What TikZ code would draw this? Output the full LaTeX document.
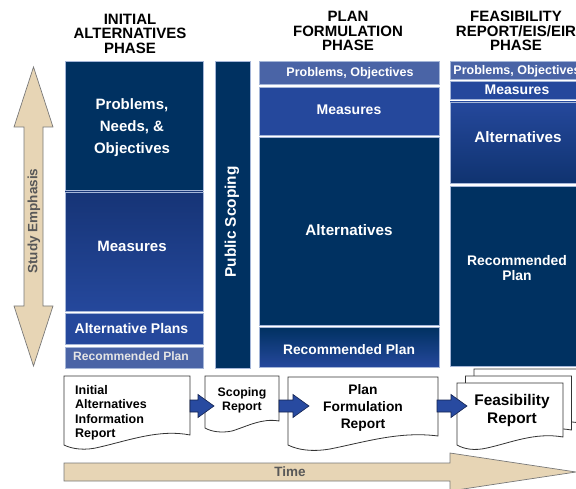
\documentclass[tikz,border=0pt]{standalone}
\usepackage{fontspec}
\setmainfont{Liberation Sans}
\usetikzlibrary{calc}
\definecolor{navy}{RGB}{0,49,97}
\definecolor{midblue}{RGB}{37,72,156}
\definecolor{deepblue}{RGB}{22,52,118}
\definecolor{paleblue}{RGB}{74,100,166}
\definecolor{edgeblue}{RGB}{165,182,216}
\definecolor{tanfill}{RGB}{231,213,181}
\definecolor{tanedge}{RGB}{120,120,120}
\definecolor{arrowblue}{RGB}{40,74,160}
\definecolor{arrowedge}{RGB}{20,35,80}
\definecolor{labelgrey}{RGB}{88,88,88}
\newcommand\fsz[2]{\fontsize{#1}{#2}\selectfont}
\begin{document}
\begin{tikzpicture}[x=1pt,y=-1pt,
  panel/.style={draw=edgeblue, line width=0.7pt, inner sep=0pt},
  ptext/.style={text=white, inner sep=0pt, align=center},
  title/.style={inner sep=0pt, align=center, font=\bfseries\fsz{15}{14.5}},
  docshape/.style={fill=white, draw=black!80, line width=0.8pt},
  doctext/.style={inner sep=0pt, font=\bfseries},
  blockarrow/.style={fill=arrowblue, draw=arrowedge, line width=0.6pt},
  tanarrow/.style={fill=tanfill, draw=tanedge, line width=0.7pt},
  greytext/.style={text=labelgrey, inner sep=0pt, font=\bfseries}]
\useasboundingbox (0,0) rectangle (576,489);
\clip (0,0) rectangle (576,489);

% phase headings
\node[title] (h1) at (130,33.6) {INITIAL\\ALTERNATIVES\\PHASE};
\node[title] (h2) at (348,31.2) {PLAN\\FORMULATION\\PHASE};
\node[title] (h3) at (516,31.2) {FEASIBILITY\\REPORT/EIS/EIR\\PHASE};

% study emphasis double arrow
\coordinate (stop) at (33.5,67);
\coordinate (sbot) at (33.5,366);
\draw[tanarrow] (stop) -- ($(stop)+(19.5,60)$) -- ($(stop)+(9.5,60)$)
  -- ($(sbot)+(9.5,-60)$) -- ($(sbot)+(19.5,-60)$) -- (sbot)
  -- ($(sbot)+(-19.5,-60)$) -- ($(sbot)+(-9.5,-60)$)
  -- ($(stop)+(-9.5,60)$) -- ($(stop)+(-19.5,60)$) -- cycle;
\node[greytext, rotate=90, font=\bfseries\fsz{13.5}{15}] (emph) at (34,221) {Study Emphasis};

% initial alternatives column
\node[panel, fill=navy, minimum width=138pt, minimum height=129pt] (pne) at (134,125.5) {};
\node[panel, top color=deepblue, bottom color=midblue, minimum width=138pt, minimum height=119pt] (meas1) at (134,251.5) {};
\node[panel, fill=midblue, minimum width=138pt, minimum height=31pt] (alt1) at (134,328.5) {};
\node[panel, fill=paleblue, minimum width=138pt, minimum height=21pt] (rec1) at (134,357.5) {};
\node[ptext, font=\bfseries\fsz{15}{22}] (pnet) at (132,128) {Problems,\\Needs, \&\\Objectives};
\node[ptext, font=\bfseries\fsz{15}{18}] (meas1t) at (132,246) {Measures};
\node[ptext, font=\bfseries\fsz{14}{16}] (alt1t) at (131.5,328) {Alternative Plans};
\node[ptext, text=black!10, font=\bfseries\fsz{12.1}{14}] (rec1t) at (131,356.5) {Recommended Plan};

% public scoping band
\node[panel, fill=navy, minimum width=35pt, minimum height=307pt] (scope) at (232.5,214.5) {};
\node[ptext, rotate=90, font=\bfseries\fsz{15.4}{17}] (scopet) at (232,222) {Public Scoping};

% plan formulation column
\node[panel, fill=paleblue, minimum width=180pt, minimum height=23pt] (po2) at (349,72.5) {};
\node[panel, fill=midblue, minimum width=180pt, minimum height=48pt] (meas2) at (349,111) {};
\node[panel, fill=navy, minimum width=180pt, minimum height=188pt] (alt2) at (349,231) {};
\node[panel, top color=navy, bottom color=midblue, minimum width=180pt, minimum height=40pt] (rec2) at (349,347) {};
\node[ptext, font=\bfseries\fsz{12.5}{14}] (po2t) at (350,73) {Problems, Objectives};
\node[ptext, font=\bfseries\fsz{14}{16}] (meas2t) at (349,110) {Measures};
\node[ptext, font=\bfseries\fsz{15.2}{17}] (alt2t) at (349,230) {Alternatives};
\node[ptext, font=\bfseries\fsz{13.8}{16}] (rec2t) at (349,350) {Recommended Plan};

% feasibility report column
\node[panel, fill=paleblue, minimum width=134pt, minimum height=18pt] (po3) at (517,70) {};
\node[panel, fill=midblue, minimum width=134pt, minimum height=18pt] (meas3) at (517,90) {};
\node[panel, top color=midblue, bottom color=deepblue!70!navy, minimum width=134pt, minimum height=81pt] (alt3) at (517,142.5) {};
\node[panel, fill=navy, minimum width=134pt, minimum height=180pt] (rec3) at (517,276) {};
\node[ptext, font=\bfseries\fsz{12.5}{14}] (po3t) at (517,71) {Problems, Objectives};
\node[ptext, font=\bfseries\fsz{14}{16}] (meas3t) at (517,90) {Measures};
\node[ptext, font=\bfseries\fsz{15.2}{17}] (alt3t) at (518,137) {Alternatives};
\node[ptext, font=\bfseries\fsz{13.9}{15}] (rec3t) at (517,268) {Recommended\\Plan};

% reports
\draw[docshape] (64,376) -- (190,376) -- (190,435)
  .. controls (160,429) and (130,440) .. (100,447)
  .. controls (85,451) and (72,449) .. (64,445) -- cycle;
\node[doctext, anchor=west, align=left, font=\bfseries\fsz{12.5}{14.5}] (doc1) at (75,413)
  {Initial\\Alternatives\\Information\\Report};

\draw[docshape] (205,376) -- (279,376) -- (279,421)
  .. controls (262,418) and (248,426) .. (232,431)
  .. controls (222,433) and (212,432) .. (205,428) -- cycle;
\node[doctext, align=center, font=\bfseries\fsz{12.3}{14}] (doc2) at (242,400) {Scoping\\Report};

\draw[docshape] (288,377) -- (438,377) -- (438,436)
  .. controls (400,431) and (365,442) .. (330,449)
  .. controls (312,452) and (298,450) .. (288,445) -- cycle;
\node[doctext, align=center, font=\bfseries\fsz{13.8}{17}] (doc3) at (363,408) {Plan\\Formulation\\Report};

\foreach \dx/\dy in {17/-14, 8.5/-7, 0/0}{
  \begin{scope}[shift={(\dx,\dy)}]
    \draw[docshape] (457,383) -- (563,383) -- (563,437)
      .. controls (535,432) and (510,443) .. (487,448)
      .. controls (474,451) and (464,449) .. (457,445) -- cycle;
  \end{scope}
}
\node[doctext, align=center, font=\bfseries\fsz{15.4}{18}] (doc4) at (512,410.5) {Feasibility\\Report};

% hand-over arrows between reports
\coordinate (a1s) at (190,406); \coordinate (a1t) at (214,406);
\coordinate (a2s) at (279,406); \coordinate (a2t) at (309,406);
\coordinate (a3s) at (437,406); \coordinate (a3t) at (467,406);
\foreach \s/\t in {a1s/a1t, a2s/a2t, a3s/a3t}{
  \draw[blockarrow] ($(\s)+(0,-6)$) -| ($(\t)+(-16,-11.5)$) -- (\t)
    -- ($(\t)+(-16,11.5)$) |- ($(\s)+(0,6)$) -- cycle;
}

% time arrow
\coordinate (tstart) at (64,472);
\coordinate (ttip) at (576,472);
\draw[tanarrow] ($(tstart)+(0,-9)$) -- ($(ttip)+(-126,-9)$) -- ($(ttip)+(-126,-19)$)
  -- (ttip) -- ($(ttip)+(-126,19)$) -- ($(ttip)+(-126,9)$) -- ($(tstart)+(0,9)$) -- cycle;
\node[greytext, font=\bfseries\fsz{13.5}{15}] (time) at (290,472) {Time};
\end{tikzpicture}
\end{document}
